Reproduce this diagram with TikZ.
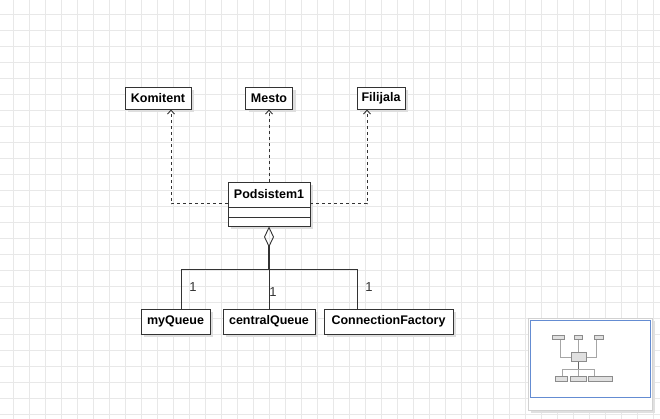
\documentclass[tikz,border=0pt]{standalone}
\usepackage{fontspec}
\setmainfont{Liberation Sans}
\usetikzlibrary{arrows.meta,shadows}
\definecolor{gridline}{RGB}{232,232,232}
\definecolor{edgegray}{RGB}{51,51,51}
\definecolor{mapblue}{RGB}{100,140,210}

\begin{document}
\begin{tikzpicture}[x=1pt,y=-1pt,
    classbox/.style ={rectangle, draw=edgegray, fill=white, line width=0.9pt, inner sep=0pt,
        minimum height=22pt, font=\fontsize{12.5}{14}\selectfont\bfseries,
        drop shadow={shadow xshift=3pt, shadow yshift=-3pt, fill=black!13, opacity=1}},
    dependency/.style ={draw=edgegray, line width=1pt, dash pattern=on 3pt off 3pt,
        -{Straight Barb[length=4pt,width=7pt,line width=0.9pt]}},
    aggregation/.style ={draw=edgegray, line width=1.8pt,
        {Diamond[open,length=21pt,width=10pt,line width=0.9pt]}-},
    association/.style ={draw=edgegray, line width=0.9pt},
    multiplicity/.style ={inner sep=0pt, text=edgegray, font=\fontsize{13}{15}\selectfont}]
   % canvas and grid
   \fill[white] (0,0) rectangle (660,419);
   \useasboundingbox (0,0) rectangle (660,419);
   \foreach \gx in {13,29,...,660} \draw[gridline, line width=0.8pt] (\gx,0) -- (\gx,419);
   \foreach \gy in {14,30,...,419} \draw[gridline, line width=0.8pt] (0,\gy) -- (660,\gy);

   % classes
   \node[classbox, minimum width=66pt] (komitent) at (158,98) {Komitent};
   \node[classbox, minimum width=47pt] (mesto) at (269,98) {Mesto};
   \node[classbox, minimum width=48pt] (filijala) at (381,98) {Filijala};
   \node[classbox, minimum width=82pt, minimum height=44pt,
      label={[anchor=north, minimum height=25pt, inner sep=0pt,
              font=\fontsize{12.5}{14}\selectfont\bfseries]north:Podsistem1},
      path picture={\draw[edgegray, line width=0.9pt]
         ([yshift=-25pt]path picture bounding box.north west) -- ([yshift=-25pt]path picture bounding box.north east)
         ([yshift=-35pt]path picture bounding box.north west) -- ([yshift=-35pt]path picture bounding box.north east);}]
      (podsistem) at (269,204) {};
   \node[classbox, minimum width=69pt, minimum height=25pt] (myqueue) at (175.5,321.5) {myQueue};
   \node[classbox, minimum width=92pt, minimum height=25pt] (centralqueue) at (269,321.5) {centralQueue};
   \node[classbox, minimum width=129pt, minimum height=25pt] (connfactory) at (388.5,321.5) {ConnectionFactory};

   % dependencies
   \draw[dependency] (podsistem.west) -| ([xshift=13pt]komitent.south);
   \draw[dependency] (podsistem.north) -- (mesto.south);
   \draw[dependency] (podsistem.east) -| ([xshift=-14pt]filijala.south);

   % aggregation
   \coordinate (hub) at (269,269);
   \draw[aggregation] (podsistem.south) -- (hub);
   \draw[association] (hub) -| ([xshift=5.5pt]myqueue.north);
   \draw[association] (hub) -- (centralqueue.north);
   \draw[association] (hub) -| ([xshift=-31.5pt]connfactory.north);
   \node[multiplicity] (multa) at (193,287) {1};
   \node[multiplicity] (multb) at (273,292) {1};
   \node[multiplicity] (multc) at (369,287) {1};

   % outline panel
   \fill[black!12] (531,321) rectangle (655,413);
   \filldraw[fill=white, draw=black!18] (528,318) rectangle (652,410);
   \draw[mapblue, line width=1pt] (530,320) rectangle (650,397);
   \begin{scope}[shift={(529.1,318.8)}, xscale=0.183, yscale=0.186]
      \draw[black!35, line width=0.4pt] (171,109) -- (171,204) -- (228,204)
         (269,109) -- (269,182) (367,109) -- (367,204) -- (310,204)
         (181,309) -- (181,269) -- (357,269) -- (357,309) (269,269) -- (269,309);
      \draw[black!60, line width=0.6pt] (269,226) -- (269,269);
      \foreach \bx/\by/\ex/\ey in {125/87/191/109, 245/87/292/109, 357/87/405/109,
            228/182/310/226, 141/309/210/334, 222/309/314/334, 324/309/453/334}
         \filldraw[fill=black!12, draw=black!45, line width=0.4pt] (\bx,\by) rectangle (\ex,\ey);
   \end{scope}
\end{tikzpicture}
\end{document}
